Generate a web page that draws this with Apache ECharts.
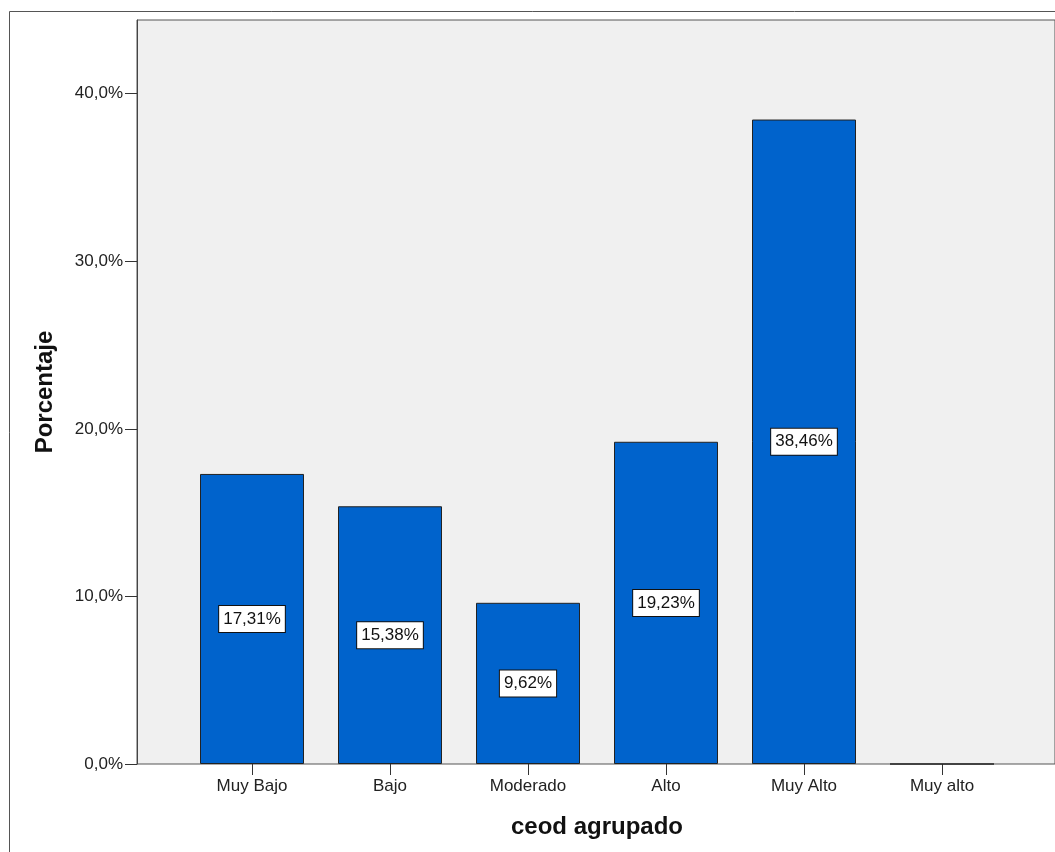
<!DOCTYPE html>
<html><head><meta charset="utf-8">
<script src="https://cdn.jsdelivr.net/npm/echarts@6/dist/echarts.min.js"></script>
<style>html,body{margin:0;padding:0;background:#fff}#c{width:1055px;height:852px}</style>
</head><body><div id="c"></div>
<script>
var categories = ['Muy Bajo', 'Bajo', 'Moderado', 'Alto', 'Muy Alto', 'Muy alto'];
var values = [17.31, 15.38, 9.62, 19.23, 38.46, 0];
var yTicks = [0, 10, 20, 30, 40];
var yMax = 44.4;
var FONT = '"Liberation Sans", Arial, sans-serif';

function pct(v, d) { return v.toFixed(d).replace('.', ',') + '%'; }

var chart = echarts.init(document.getElementById('c'), null, {renderer: 'canvas'});
chart.setOption({
  animation: false,
  backgroundColor: '#ffffff',
  graphic: [{
    type: 'rect', x: 9.5, y: 11.5, z: -10,
    shape: {x: 0, y: 0, width: 1200, height: 1000},
    style: {fill: 'none', stroke: '#555', lineWidth: 1}
  }],
  grid: [
    {left: 137, right: -5, top: 20, bottom: 88, show: true, backgroundColor: '#f0f0f0', borderColor: '#555', borderWidth: 1},
    {left: 183, right: 44, top: 20, bottom: 88}
  ],
  xAxis: [
    {gridIndex: 0, type: 'category', data: categories, show: false},
    {gridIndex: 1, type: 'category', data: categories,
      axisLine: {show: false},
      axisTick: {show: true, alignWithLabel: true, length: 11, lineStyle: {color: '#333'}},
      axisLabel: {margin: 14, color: '#222', fontSize: 17, fontFamily: FONT},
      name: 'ceod agrupado', nameLocation: 'middle', nameGap: 51,
      nameTextStyle: {fontSize: 24, fontWeight: 'bold', color: '#111', fontFamily: FONT}
    }
  ],
  yAxis: [
    {gridIndex: 0, type: 'value', min: 0, max: yMax, interval: 10,
      axisLine: {show: true, lineStyle: {color: '#444'}},
      axisTick: {show: true, length: 12, customValues: yTicks, lineStyle: {color: '#333'}},
      splitLine: {show: false},
      axisLabel: {margin: 14, color: '#222', fontSize: 17, fontFamily: FONT, customValues: yTicks,
        formatter: function (v) { return yTicks.indexOf(v) >= 0 ? pct(v, 1) : ''; }},
      name: 'Porcentaje', nameLocation: 'middle', nameGap: 80, nameRotate: 90,
      nameTextStyle: {fontSize: 24, fontWeight: 'bold', color: '#111', fontFamily: FONT}
    },
    {gridIndex: 1, type: 'value', min: 0, max: yMax, interval: 10, show: false, splitLine: {show: false}}
  ],
  series: [{
    type: 'bar', xAxisIndex: 1, yAxisIndex: 1,
    barWidth: 104,
    data: values.map(function (v) {
      return {value: v, label: {show: v > 0}};
    }),
    itemStyle: {color: '#0063cc', borderColor: '#222', borderWidth: 1},
    label: {
      position: 'inside', color: '#111', fontSize: 17, fontFamily: FONT,
      backgroundColor: '#ffffff', borderColor: '#111', borderWidth: 1,
      padding: [5, 4, 4, 4],
      formatter: function (p) { return pct(p.value, 2); }
    }
  }]
});
</script></body></html>
